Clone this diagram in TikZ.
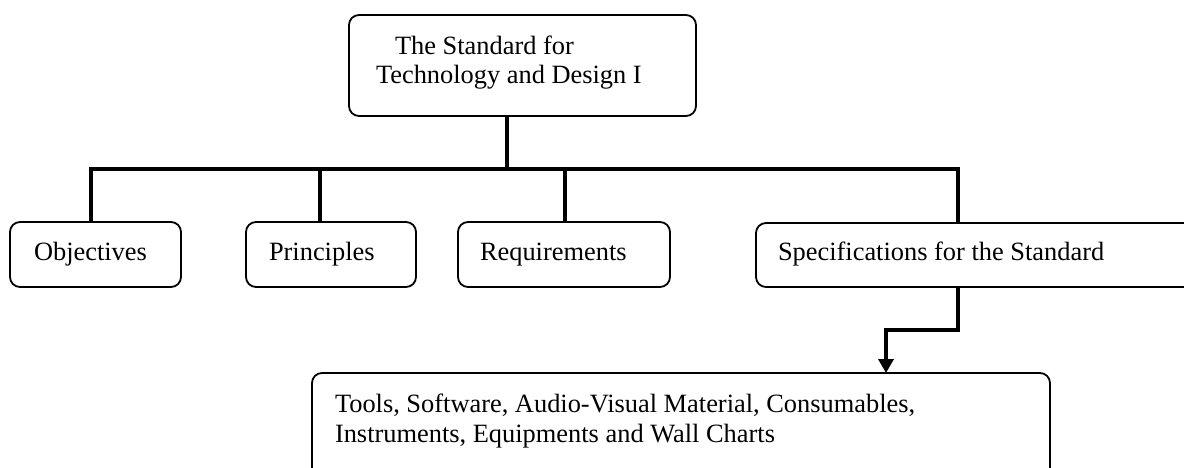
\documentclass[tikz,border=0pt]{standalone}
\usepackage{fontspec}
\setmainfont{Liberation Serif}
\usetikzlibrary{arrows.meta}
\begin{document}
\begin{tikzpicture}[x=0.5pt,y=-0.5pt,
  box/.style={draw=black,line width=0.9pt,rounded corners=5pt,inner sep=0pt,outer sep=0pt,rectangle},
  txt/.style={anchor=base west,inner sep=0pt,outer sep=0pt,font=\fontsize{13.2pt}{15pt}\selectfont},
  conn/.style={draw=black,line width=2pt,line join=miter}]
\useasboundingbox (0,0) rectangle (1184,467);
% boxes
\node[box,minimum width=173.5pt,minimum height=50.5pt] (top) at (522.5,65.5) {};
\node[box,minimum width=85.5pt,minimum height=32.5pt] (obj) at (95.5,254.5) {};
\node[box,minimum width=85pt,minimum height=32.5pt] (prin) at (331,254.5) {};
\node[box,minimum width=106pt,minimum height=32.5pt] (req) at (564,254.5) {};
\node[box,minimum width=222pt,minimum height=32pt] (spec) at (978,255) {};
\node[box,minimum width=369pt,minimum height=58.5pt] (bot) at (681,431.5) {};
% texts
\node[txt] (t1) at (395,54) {The Standard for};
\node[txt] (t2) at (376,83) {Technology and Design I};
\node[txt] (tobj) at (34,260) {Objectives};
\node[txt] (tprin) at (269,260) {Principles};
\node[txt] (treq) at (480,260) {Requirements};
\node[txt] (tspec) at (778,260) {Specifications for the Standard};
\node[txt] (tb1) at (335,412) {Tools, Software, Audio-Visual Material, Consumables,};
\node[txt] (tb2) at (335,442) {Instruments, Equipments and Wall Charts};
% junctions
\coordinate (jt) at (507,169);
\coordinate (j1) at (91,169);
\coordinate (j2) at (320,169);
\coordinate (j3) at (565,169);
\coordinate (j4) at (958,169);
\coordinate (e1) at (958,330);
\coordinate (e2) at (886,330);
% connectors
\draw[conn] (jt |- top.south) -- (jt);
\draw[conn] (j1 |- obj.north) -- (j1) -- (j4) -- (j4 |- spec.north);
\draw[conn] (j2) -- (j2 |- prin.north);
\draw[conn] (j3) -- (j3 |- req.north);
\draw[conn,-{Triangle[length=7pt,width=7.5pt]}] (e1 |- spec.south) -- (e1) -- (e2) -- (e2 |- bot.north);
\end{tikzpicture}
\end{document}
